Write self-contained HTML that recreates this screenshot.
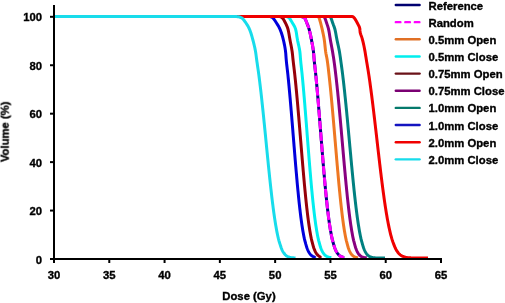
<!DOCTYPE html>
<html><head><meta charset="utf-8"><style>
html,body{margin:0;padding:0;background:#fff;}
body{width:505px;height:303px;overflow:hidden;}
svg{display:block;-webkit-font-smoothing:antialiased;}
text{font-family:"Liberation Sans",sans-serif;font-weight:bold;font-size:11.3px;fill:#000;stroke:#000;stroke-width:0.35px;will-change:transform;}
</style></head><body>
<svg width="505" height="303" viewBox="0 0 505 303">
<rect width="505" height="303" fill="#fff"/>
<polyline points="54.00,16.50 299.71,16.50 300.50,16.52 301.23,16.59 301.91,16.69 302.53,16.84 303.10,17.04 303.60,17.27 304.06,17.55 304.45,17.88 304.79,18.24 305.07,18.65 305.30,19.10 306.09,21.02 306.86,22.95 307.60,24.87 308.33,26.79 308.96,28.72 309.48,30.64 309.96,32.56 310.39,34.49 310.79,36.41 311.18,38.34 311.55,40.26 311.92,42.18 312.28,44.11 312.63,46.03 312.95,47.95 313.23,49.88 313.48,51.80 313.67,53.72 313.83,55.65 313.98,57.57 314.14,59.49 314.32,61.42 314.52,63.34 314.73,65.26 314.94,67.19 315.16,69.11 315.37,71.04 315.58,72.96 315.78,74.88 315.97,76.81 316.16,78.73 316.34,80.65 316.52,82.58 316.70,84.50 316.87,86.42 317.04,88.35 317.22,90.27 317.39,92.19 317.56,94.12 317.72,96.04 317.89,97.96 318.05,99.89 318.21,101.81 318.37,103.74 318.53,105.66 318.69,107.58 318.85,109.51 319.01,111.43 319.17,113.35 319.32,115.28 319.48,117.20 319.63,119.12 319.79,121.05 319.94,122.97 320.09,124.89 320.25,126.82 320.40,128.74 320.55,130.66 320.71,132.59 320.86,134.51 321.01,136.44 321.17,138.36 321.32,140.28 321.47,142.21 321.62,144.13 321.78,146.05 321.93,147.98 322.09,149.90 322.24,151.82 322.40,153.75 322.56,155.67 322.71,157.59 322.87,159.52 323.03,161.44 323.19,163.36 323.35,165.29 323.51,167.21 323.68,169.14 323.84,171.06 324.01,172.98 324.17,174.91 324.34,176.83 324.51,178.75 324.68,180.68 324.86,182.60 325.03,184.52 325.21,186.45 325.40,188.37 325.58,190.29 325.77,192.22 325.96,194.14 326.15,196.06 326.35,197.99 326.54,199.91 326.75,201.84 326.95,203.76 327.16,205.68 327.38,207.61 327.60,209.53 327.83,211.45 328.06,213.38 328.30,215.30 328.54,217.22 328.80,219.15 329.06,221.07 329.33,222.99 329.62,224.92 329.92,226.84 330.22,228.76 330.54,230.69 330.88,232.61 331.24,234.54 331.63,236.46 332.05,238.38 332.51,240.31 333.02,242.23 333.57,244.15 334.16,246.08 334.78,248.00 335.09,248.79 335.40,249.53 335.71,250.21 336.02,250.85 336.33,251.45 336.64,252.01 336.95,252.52 337.27,253.00 337.58,253.44 337.89,253.85 338.21,254.22 338.52,254.57 338.84,254.89 339.15,255.18 339.47,255.45 339.78,255.69 340.10,255.92 340.42,256.13 340.73,256.31 341.05,256.48 341.37,256.64 341.69,256.78 342.00,256.91 342.32,257.02 342.64,257.13 342.96,257.22 343.50,258.00" fill="none" stroke="#000080" stroke-width="3.0" stroke-linejoin="round"/>
<polyline points="54.00,16.50 299.71,16.50 300.50,16.52 301.23,16.59 301.91,16.69 302.53,16.84 303.10,17.04 303.60,17.27 304.06,17.55 304.45,17.88 304.79,18.24 305.07,18.65 305.30,19.10 306.09,21.02 306.86,22.95 307.60,24.87" fill="none" stroke="#FF00FF" stroke-width="3.0" stroke-linejoin="round"/>
<polyline points="307.60,24.87 308.33,26.79 308.96,28.72 309.48,30.64 309.96,32.56 310.39,34.49 310.79,36.41 311.18,38.34 311.55,40.26 311.92,42.18 312.28,44.11 312.63,46.03 312.95,47.95 313.23,49.88 313.48,51.80 313.67,53.72 313.83,55.65 313.98,57.57 314.14,59.49 314.32,61.42 314.52,63.34 314.73,65.26 314.94,67.19 315.16,69.11 315.37,71.04 315.58,72.96 315.78,74.88 315.97,76.81 316.16,78.73 316.34,80.65 316.52,82.58 316.70,84.50 316.87,86.42 317.04,88.35 317.22,90.27 317.39,92.19 317.56,94.12 317.72,96.04 317.89,97.96 318.05,99.89 318.21,101.81 318.37,103.74 318.53,105.66 318.69,107.58 318.85,109.51 319.01,111.43 319.17,113.35 319.32,115.28 319.48,117.20 319.63,119.12 319.79,121.05 319.94,122.97 320.09,124.89 320.25,126.82 320.40,128.74 320.55,130.66 320.71,132.59 320.86,134.51 321.01,136.44 321.17,138.36 321.32,140.28 321.47,142.21 321.62,144.13 321.78,146.05 321.93,147.98 322.09,149.90 322.24,151.82 322.40,153.75 322.56,155.67 322.71,157.59 322.87,159.52 323.03,161.44 323.19,163.36 323.35,165.29 323.51,167.21 323.68,169.14 323.84,171.06 324.01,172.98 324.17,174.91 324.34,176.83 324.51,178.75 324.68,180.68 324.86,182.60 325.03,184.52 325.21,186.45 325.40,188.37 325.58,190.29 325.77,192.22 325.96,194.14 326.15,196.06 326.35,197.99 326.54,199.91 326.75,201.84 326.95,203.76 327.16,205.68 327.38,207.61 327.60,209.53 327.83,211.45 328.06,213.38 328.30,215.30 328.54,217.22 328.80,219.15 329.06,221.07 329.33,222.99 329.62,224.92 329.92,226.84 330.22,228.76 330.54,230.69 330.88,232.61 331.24,234.54 331.63,236.46 332.05,238.38 332.51,240.31 333.02,242.23 333.57,244.15 334.16,246.08 334.78,248.00 335.09,248.79 335.40,249.53 335.71,250.21 336.02,250.85 336.33,251.45 336.64,252.01 336.95,252.52 337.27,253.00 337.58,253.44 337.89,253.85 338.21,254.22 338.52,254.57 338.84,254.89 339.15,255.18 339.47,255.45 339.78,255.69 340.10,255.92 340.42,256.13 340.73,256.31 341.05,256.48 341.37,256.64 341.69,256.78 342.00,256.91 342.32,257.02 342.64,257.13 342.96,257.22 343.50,258.00" fill="none" stroke="#FF00FF" stroke-width="3.0" stroke-linejoin="round" stroke-dasharray="8.55 2.8" stroke-dashoffset="5.119"/>
<polyline points="54.00,16.50 317.53,16.50 317.75,16.52 317.95,16.59 318.15,16.69 318.35,16.84 318.53,17.04 318.71,17.27 318.88,17.55 319.05,17.88 319.21,18.24 319.36,18.65 319.50,19.10 320.06,21.02 320.59,22.95 321.10,24.87 321.59,26.79 322.05,28.72 322.48,30.64 322.91,32.56 323.31,34.49 323.69,36.41 324.04,38.34 324.34,40.26 324.59,42.18 324.81,44.11 325.01,46.03 325.20,47.95 325.42,49.88 325.67,51.80 325.99,53.72 326.37,55.65 326.76,57.57 327.12,59.49 327.41,61.42 327.67,63.34 327.92,65.26 328.15,67.19 328.37,69.11 328.59,71.04 328.81,72.96 329.02,74.88 329.24,76.81 329.45,78.73 329.65,80.65 329.86,82.58 330.06,84.50 330.25,86.42 330.45,88.35 330.64,90.27 330.83,92.19 331.01,94.12 331.20,96.04 331.38,97.96 331.56,99.89 331.74,101.81 331.92,103.74 332.09,105.66 332.27,107.58 332.44,109.51 332.62,111.43 332.79,113.35 332.96,115.28 333.13,117.20 333.29,119.12 333.46,121.05 333.63,122.97 333.79,124.89 333.96,126.82 334.12,128.74 334.29,130.66 334.45,132.59 334.62,134.51 334.78,136.44 334.94,138.36 335.10,140.28 335.27,142.21 335.43,144.13 335.59,146.05 335.75,147.98 335.92,149.90 336.08,151.82 336.25,153.75 336.41,155.67 336.57,157.59 336.74,159.52 336.90,161.44 337.07,163.36 337.24,165.29 337.41,167.21 337.57,169.14 337.75,171.06 337.92,172.98 338.09,174.91 338.26,176.83 338.44,178.75 338.61,180.68 338.79,182.60 338.97,184.52 339.15,186.45 339.34,188.37 339.52,190.29 339.71,192.22 339.91,194.14 340.10,196.06 340.30,197.99 340.49,199.91 340.70,201.84 340.90,203.76 341.11,205.68 341.33,207.61 341.55,209.53 341.77,211.45 342.00,213.38 342.23,215.30 342.48,217.22 342.72,219.15 342.98,221.07 343.25,222.99 343.52,224.92 343.81,226.84 344.10,228.76 344.41,230.69 344.74,232.61 345.08,234.54 345.44,236.46 345.84,238.38 346.27,240.31 346.75,242.23 347.26,244.15 347.80,246.08 348.37,248.00 348.65,248.79 348.93,249.53 349.21,250.21 349.49,250.85 349.77,251.45 350.05,252.01 350.33,252.52 350.61,253.00 350.89,253.44 351.16,253.85 351.44,254.22 351.72,254.57 351.99,254.89 352.27,255.18 352.54,255.45 352.81,255.69 353.09,255.92 353.36,256.13 353.63,256.31 353.90,256.48 354.17,256.64 354.44,256.78 354.71,256.91 354.98,257.02 355.24,257.13 355.51,257.22 355.78,257.31 356.04,257.38 356.31,257.45 356.57,257.51 356.84,257.57 357.10,257.62 357.80,258.00" fill="none" stroke="#EE7722" stroke-width="3.0" stroke-linejoin="round"/>
<polyline points="54.00,16.50 285.43,16.50 285.97,16.52 286.48,16.59 286.97,16.69 287.44,16.84 287.88,17.04 288.31,17.27 288.71,17.55 289.09,17.88 289.45,18.24 289.79,18.65 290.10,19.10 291.30,21.02 292.45,22.95 293.55,24.87 294.67,26.79 295.46,28.72 295.94,30.64 296.32,32.56 296.63,34.49 296.91,36.41 297.21,38.34 297.55,40.26 297.95,42.18 298.38,44.11 298.82,46.03 299.23,47.95 299.59,49.88 299.88,51.80 300.08,53.72 300.24,55.65 300.38,57.57 300.54,59.49 300.72,61.42 300.91,63.34 301.12,65.26 301.33,67.19 301.54,69.11 301.75,71.04 301.96,72.96 302.16,74.88 302.34,76.81 302.53,78.73 302.71,80.65 302.89,82.58 303.06,84.50 303.24,86.42 303.41,88.35 303.58,90.27 303.75,92.19 303.91,94.12 304.08,96.04 304.24,97.96 304.40,99.89 304.56,101.81 304.72,103.74 304.88,105.66 305.03,107.58 305.19,109.51 305.35,111.43 305.50,113.35 305.66,115.28 305.81,117.20 305.96,119.12 306.11,121.05 306.26,122.97 306.42,124.89 306.57,126.82 306.72,128.74 306.87,130.66 307.02,132.59 307.17,134.51 307.32,136.44 307.47,138.36 307.62,140.28 307.77,142.21 307.92,144.13 308.07,146.05 308.23,147.98 308.38,149.90 308.53,151.82 308.69,153.75 308.84,155.67 308.99,157.59 309.15,159.52 309.31,161.44 309.46,163.36 309.62,165.29 309.78,167.21 309.94,169.14 310.10,171.06 310.27,172.98 310.43,174.91 310.60,176.83 310.76,178.75 310.93,180.68 311.10,182.60 311.28,184.52 311.45,186.45 311.63,188.37 311.81,190.29 312.00,192.22 312.18,194.14 312.37,196.06 312.56,197.99 312.76,199.91 312.96,201.84 313.16,203.76 313.37,205.68 313.58,207.61 313.80,209.53 314.02,211.45 314.25,213.38 314.48,215.30 314.72,217.22 314.97,219.15 315.23,221.07 315.49,222.99 315.78,224.92 316.07,226.84 316.37,228.76 316.68,230.69 317.01,232.61 317.36,234.54 317.74,236.46 318.15,238.38 318.60,240.31 319.10,242.23 319.64,244.15 320.22,246.08 320.82,248.00 321.12,248.79 321.42,249.53 321.73,250.21 322.03,250.85 322.34,251.45 322.64,252.01 322.94,252.52 323.25,253.00 323.56,253.44 323.86,253.85 324.17,254.22 324.47,254.57 324.78,254.89 325.09,255.18 325.39,255.45 325.70,255.69 326.01,255.92 326.32,256.13 326.63,256.31 326.94,256.48 327.25,256.64 327.56,256.78 327.87,256.91 328.18,257.02 328.49,257.13 328.80,257.22 329.11,257.31 329.42,257.38 329.73,257.45 330.05,257.51 330.36,257.57 331.00,258.00" fill="none" stroke="#00EEEE" stroke-width="3.0" stroke-linejoin="round"/>
<polyline points="54.00,16.50 278.71,16.50 279.25,16.52 279.76,16.59 280.25,16.69 280.71,16.84 281.15,17.04 281.57,17.27 281.96,17.55 282.33,17.88 282.68,18.24 283.00,18.65 283.30,19.10 284.42,21.02 285.44,22.95 286.36,24.87 287.21,26.79 287.86,28.72 288.33,30.64 288.72,32.56 289.07,34.49 289.39,36.41 289.70,38.34 290.05,40.26 290.42,42.18 290.81,44.11 291.19,46.03 291.55,47.95 291.88,49.88 292.17,51.80 292.41,53.72 292.62,55.65 292.81,57.57 293.01,59.49 293.22,61.42 293.45,63.34 293.68,65.26 293.91,67.19 294.14,69.11 294.36,71.04 294.59,72.96 294.80,74.88 295.01,76.81 295.21,78.73 295.41,80.65 295.60,82.58 295.79,84.50 295.98,86.42 296.16,88.35 296.35,90.27 296.53,92.19 296.71,94.12 296.89,96.04 297.06,97.96 297.24,99.89 297.41,101.81 297.58,103.74 297.75,105.66 297.92,107.58 298.09,109.51 298.25,111.43 298.42,113.35 298.58,115.28 298.75,117.20 298.91,119.12 299.07,121.05 299.23,122.97 299.39,124.89 299.55,126.82 299.71,128.74 299.87,130.66 300.03,132.59 300.19,134.51 300.35,136.44 300.50,138.36 300.66,140.28 300.82,142.21 300.98,144.13 301.14,146.05 301.29,147.98 301.45,149.90 301.61,151.82 301.77,153.75 301.93,155.67 302.09,157.59 302.25,159.52 302.42,161.44 302.58,163.36 302.74,165.29 302.91,167.21 303.07,169.14 303.24,171.06 303.41,172.98 303.58,174.91 303.75,176.83 303.92,178.75 304.09,180.68 304.26,182.60 304.44,184.52 304.62,186.45 304.80,188.37 304.99,190.29 305.17,192.22 305.36,194.14 305.55,196.06 305.74,197.99 305.94,199.91 306.14,201.84 306.34,203.76 306.55,205.68 306.76,207.61 306.98,209.53 307.20,211.45 307.43,213.38 307.66,215.30 307.90,217.22 308.15,219.15 308.40,221.07 308.67,222.99 308.95,224.92 309.23,226.84 309.53,228.76 309.83,230.69 310.16,232.61 310.50,234.54 310.87,236.46 311.26,238.38 311.70,240.31 312.18,242.23 312.69,244.15 313.24,246.08 313.81,248.00 314.10,248.79 314.39,249.53 314.67,250.21 314.96,250.85 315.24,251.45 315.53,252.01 315.81,252.52 316.10,253.00 316.38,253.44 316.66,253.85 316.95,254.22 317.23,254.57 317.51,254.89 317.79,255.18 318.07,255.45 318.36,255.69 318.64,255.92 318.92,256.13 319.20,256.31 319.48,256.48 319.76,256.64 320.04,256.78 320.80,258.00" fill="none" stroke="#960008" stroke-width="3.0" stroke-linejoin="round"/>
<polyline points="54.00,16.50 323.19,16.50 323.40,16.52 323.61,16.59 323.82,16.69 324.02,16.84 324.22,17.04 324.41,17.27 324.60,17.55 324.78,17.88 324.96,18.24 325.13,18.65 325.30,19.10 325.97,21.02 326.62,22.95 327.26,24.87 327.91,26.79 328.45,28.72 328.86,30.64 329.21,32.56 329.52,34.49 329.82,36.41 330.12,38.34 330.45,40.26 330.80,42.18 331.16,44.11 331.52,46.03 331.88,47.95 332.23,49.88 332.57,51.80 332.89,53.72 333.21,55.65 333.52,57.57 333.81,59.49 334.09,61.42 334.35,63.34 334.61,65.26 334.85,67.19 335.10,69.11 335.33,71.04 335.56,72.96 335.79,74.88 336.02,76.81 336.24,78.73 336.45,80.65 336.66,82.58 336.87,84.50 337.08,86.42 337.28,88.35 337.48,90.27 337.68,92.19 337.87,94.12 338.07,96.04 338.26,97.96 338.44,99.89 338.63,101.81 338.81,103.74 339.00,105.66 339.18,107.58 339.36,109.51 339.54,111.43 339.72,113.35 339.90,115.28 340.07,117.20 340.25,119.12 340.42,121.05 340.59,122.97 340.76,124.89 340.94,126.82 341.11,128.74 341.28,130.66 341.45,132.59 341.62,134.51 341.79,136.44 341.96,138.36 342.12,140.28 342.29,142.21 342.46,144.13 342.63,146.05 342.80,147.98 342.97,149.90 343.14,151.82 343.31,153.75 343.48,155.67 343.65,157.59 343.82,159.52 343.99,161.44 344.16,163.36 344.33,165.29 344.51,167.21 344.68,169.14 344.86,171.06 345.04,172.98 345.21,174.91 345.39,176.83 345.57,178.75 345.75,180.68 345.94,182.60 346.12,184.52 346.31,186.45 346.50,188.37 346.69,190.29 346.89,192.22 347.08,194.14 347.28,196.06 347.48,197.99 347.69,199.91 347.90,201.84 348.11,203.76 348.32,205.68 348.54,207.61 348.77,209.53 349.00,211.45 349.23,213.38 349.47,215.30 349.72,217.22 349.97,219.15 350.24,221.07 350.51,222.99 350.79,224.92 351.09,226.84 351.39,228.76 351.70,230.69 352.03,232.61 352.38,234.54 352.75,236.46 353.15,238.38 353.59,240.31 354.08,242.23 354.60,244.15 355.15,246.08 355.72,248.00 356.01,248.79 356.29,249.53 356.58,250.21 356.86,250.85 357.14,251.45 357.42,252.01 357.71,252.52 357.99,253.00 358.27,253.44 358.54,253.85 358.82,254.22 359.10,254.57 359.38,254.89 359.65,255.18 359.93,255.45 360.20,255.69 360.47,255.92 360.74,256.13 361.02,256.31 361.29,256.48 361.56,256.64 361.83,256.78 362.09,256.91 362.36,257.02 362.63,257.13 362.90,257.22 363.16,257.31 363.42,257.38 363.69,257.45 363.95,257.51 364.21,257.57 364.47,257.62 364.74,257.66 364.99,257.70 365.25,257.74 365.51,257.77 365.77,257.80 366.03,257.82 366.70,258.00" fill="none" stroke="#880080" stroke-width="3.0" stroke-linejoin="round"/>
<polyline points="54.00,16.50 329.35,16.50 329.56,16.52 329.77,16.59 329.98,16.69 330.18,16.84 330.37,17.04 330.55,17.27 330.73,17.55 330.91,17.88 331.08,18.24 331.24,18.65 331.40,19.10 332.04,21.02 332.70,22.95 333.38,24.87 334.13,26.79 334.76,28.72 335.23,30.64 335.63,32.56 335.99,34.49 336.33,36.41 336.68,38.34 337.05,40.26 337.46,42.18 337.88,44.11 338.31,46.03 338.72,47.95 339.11,49.88 339.47,51.80 339.78,53.72 340.07,55.65 340.34,57.57 340.61,59.49 340.88,61.42 341.15,63.34 341.42,65.26 341.68,67.19 341.93,69.11 342.19,71.04 342.43,72.96 342.68,74.88 342.91,76.81 343.14,78.73 343.37,80.65 343.59,82.58 343.81,84.50 344.02,86.42 344.23,88.35 344.44,90.27 344.65,92.19 344.85,94.12 345.05,96.04 345.25,97.96 345.45,99.89 345.64,101.81 345.84,103.74 346.03,105.66 346.22,107.58 346.41,109.51 346.60,111.43 346.79,113.35 346.97,115.28 347.15,117.20 347.34,119.12 347.52,121.05 347.70,122.97 347.88,124.89 348.06,126.82 348.24,128.74 348.42,130.66 348.60,132.59 348.77,134.51 348.95,136.44 349.13,138.36 349.31,140.28 349.48,142.21 349.66,144.13 349.83,146.05 350.01,147.98 350.19,149.90 350.37,151.82 350.55,153.75 350.73,155.67 350.90,157.59 351.08,159.52 351.26,161.44 351.44,163.36 351.62,165.29 351.80,167.21 351.99,169.14 352.17,171.06 352.36,172.98 352.55,174.91 352.74,176.83 352.92,178.75 353.11,180.68 353.31,182.60 353.50,184.52 353.70,186.45 353.90,188.37 354.10,190.29 354.31,192.22 354.51,194.14 354.72,196.06 354.94,197.99 355.15,199.91 355.37,201.84 355.59,203.76 355.82,205.68 356.05,207.61 356.29,209.53 356.53,211.45 356.78,213.38 357.03,215.30 357.29,217.22 357.56,219.15 357.83,221.07 358.12,222.99 358.42,224.92 358.73,226.84 359.05,228.76 359.38,230.69 359.73,232.61 360.10,234.54 360.49,236.46 360.91,238.38 361.38,240.31 361.89,242.23 362.44,244.15 363.02,246.08 363.63,248.00 363.93,248.79 364.23,249.53 364.53,250.21 364.83,250.85 365.13,251.45 365.43,252.01 365.73,252.52 366.03,253.00 366.32,253.44 366.62,253.85 366.91,254.22 367.21,254.57 367.50,254.89 367.79,255.18 368.09,255.45 368.38,255.69 368.67,255.92 368.96,256.13 369.25,256.31 369.53,256.48 369.82,256.64 370.11,256.78 370.39,256.91 370.68,257.02 370.96,257.13 371.25,257.22 371.53,257.31 371.81,257.38 372.09,257.45 372.37,257.51 372.65,257.57 372.93,257.62 373.21,257.66 373.49,257.70 373.76,257.74 374.04,257.77 374.31,257.80 374.59,257.82 374.86,257.84 375.13,257.86 375.41,257.88 375.68,257.90 375.95,257.91 376.22,257.92 376.49,257.93 376.75,257.94 377.02,257.95 377.29,257.96 377.55,257.96 385.00,258.00" fill="none" stroke="#008080" stroke-width="3.0" stroke-linejoin="round"/>
<polyline points="54.00,16.50 269.06,16.50 269.59,16.52 270.11,16.59 270.61,16.69 271.09,16.84 271.55,17.04 271.99,17.27 272.41,17.55 272.81,17.88 273.19,18.24 273.56,18.65 273.90,19.10 275.23,21.02 276.48,22.95 277.68,24.87 278.84,26.79 279.79,28.72 280.57,30.64 281.27,32.56 281.90,34.49 282.48,36.41 282.99,38.34 283.46,40.26 283.90,42.18 284.31,44.11 284.69,46.03 285.04,47.95 285.33,49.88 285.58,51.80 285.77,53.72 285.91,55.65 286.05,57.57 286.20,59.49 286.38,61.42 286.58,63.34 286.80,65.26 287.02,67.19 287.25,69.11 287.48,71.04 287.70,72.96 287.91,74.88 288.10,76.81 288.30,78.73 288.49,80.65 288.67,82.58 288.86,84.50 289.04,86.42 289.22,88.35 289.40,90.27 289.57,92.19 289.75,94.12 289.92,96.04 290.09,97.96 290.26,99.89 290.42,101.81 290.59,103.74 290.75,105.66 290.92,107.58 291.08,109.51 291.25,111.43 291.41,113.35 291.57,115.28 291.73,117.20 291.88,119.12 292.04,121.05 292.20,122.97 292.36,124.89 292.51,126.82 292.67,128.74 292.83,130.66 292.98,132.59 293.14,134.51 293.29,136.44 293.45,138.36 293.61,140.28 293.76,142.21 293.92,144.13 294.07,146.05 294.23,147.98 294.39,149.90 294.55,151.82 294.70,153.75 294.86,155.67 295.02,157.59 295.18,159.52 295.34,161.44 295.50,163.36 295.66,165.29 295.83,167.21 295.99,169.14 296.16,171.06 296.33,172.98 296.50,174.91 296.67,176.83 296.84,178.75 297.01,180.68 297.18,182.60 297.36,184.52 297.54,186.45 297.72,188.37 297.91,190.29 298.10,192.22 298.29,194.14 298.48,196.06 298.67,197.99 298.87,199.91 299.07,201.84 299.28,203.76 299.49,205.68 299.70,207.61 299.93,209.53 300.15,211.45 300.38,213.38 300.62,215.30 300.86,217.22 301.11,219.15 301.37,221.07 301.65,222.99 301.93,224.92 302.22,226.84 302.52,228.76 302.84,230.69 303.17,232.61 303.53,234.54 303.91,236.46 304.31,238.38 304.77,240.31 305.27,242.23 305.80,244.15 306.38,246.08 306.98,248.00 307.28,248.79 307.58,249.53 307.88,250.21 308.18,250.85 308.48,251.45 308.78,252.01 309.08,252.52 309.38,253.00 309.68,253.44 309.99,253.85 310.29,254.22 310.59,254.57 310.89,254.89 311.19,255.18 311.49,255.45 311.80,255.69 312.10,255.92 312.40,256.13 312.70,256.31 313.00,256.48 313.31,256.64 313.61,256.78 313.91,256.91 314.21,257.02 314.52,257.13 315.30,258.00" fill="none" stroke="#0000DD" stroke-width="3.0" stroke-linejoin="round"/>
<polyline points="54.00,16.50 351.97,16.50 352.24,16.52 352.52,16.59 352.79,16.69 353.08,16.84 353.36,17.04 353.64,17.27 353.93,17.55 354.22,17.88 354.51,18.24 354.80,18.65 355.10,19.10 356.26,21.02 357.32,22.95 358.29,24.87 359.27,26.79 359.83,28.72 359.98,30.64 360.19,32.56 360.77,34.49 361.50,36.41 362.12,38.34 362.63,40.26 363.10,42.18 363.55,44.11 363.96,46.03 364.35,47.95 364.71,49.88 365.06,51.80 365.38,53.72 365.69,55.65 366.00,57.57 366.31,59.49 366.62,61.42 366.94,63.34 367.27,65.26 367.59,67.19 367.90,69.11 368.22,71.04 368.52,72.96 368.82,74.88 369.11,76.81 369.39,78.73 369.67,80.65 369.94,82.58 370.20,84.50 370.47,86.42 370.73,88.35 370.98,90.27 371.24,92.19 371.49,94.12 371.74,96.04 371.98,97.96 372.22,99.89 372.46,101.81 372.70,103.74 372.94,105.66 373.17,107.58 373.41,109.51 373.64,111.43 373.87,113.35 374.10,115.28 374.33,117.20 374.56,119.12 374.78,121.05 375.00,122.97 375.23,124.89 375.45,126.82 375.67,128.74 375.90,130.66 376.12,132.59 376.34,134.51 376.56,136.44 376.78,138.36 377.00,140.28 377.22,142.21 377.44,144.13 377.66,146.05 377.88,147.98 378.10,149.90 378.33,151.82 378.55,153.75 378.77,155.67 379.00,157.59 379.22,159.52 379.44,161.44 379.67,163.36 379.90,165.29 380.13,167.21 380.36,169.14 380.59,171.06 380.82,172.98 381.06,174.91 381.29,176.83 381.53,178.75 381.77,180.68 382.01,182.60 382.26,184.52 382.51,186.45 382.76,188.37 383.02,190.29 383.28,192.22 383.54,194.14 383.81,196.06 384.07,197.99 384.35,199.91 384.62,201.84 384.91,203.76 385.20,205.68 385.49,207.61 385.79,209.53 386.10,211.45 386.42,213.38 386.74,215.30 387.07,217.22 387.41,219.15 387.77,221.07 388.13,222.99 388.52,224.92 388.91,226.84 389.32,228.76 389.75,230.69 390.20,232.61 390.67,234.54 391.18,236.46 391.73,238.38 392.33,240.31 392.99,242.23 393.71,244.15 394.47,246.08 395.26,248.00 395.66,248.79 396.05,249.53 396.45,250.21 396.84,250.85 397.24,251.45 397.63,252.01 398.02,252.52 398.41,253.00 398.81,253.44 399.20,253.85 399.59,254.22 399.98,254.57 400.37,254.89 400.76,255.18 401.14,255.45 401.53,255.69 401.92,255.92 402.31,256.13 402.69,256.31 403.08,256.48 403.46,256.64 403.85,256.78 404.23,256.91 404.62,257.02 405.00,257.13 405.38,257.22 405.76,257.31 406.14,257.38 406.52,257.45 406.91,257.51 407.29,257.57 407.66,257.62 408.04,257.66 408.42,257.70 408.80,257.74 409.18,257.77 409.55,257.80 409.93,257.82 410.30,257.84 410.68,257.86 411.05,257.88 411.43,257.90 411.80,257.91 412.17,257.92 412.55,257.93 412.92,257.94 413.29,257.95 413.66,257.96 414.03,257.96 428.00,258.00" fill="none" stroke="#F00000" stroke-width="3.0" stroke-linejoin="round"/>
<polyline points="54.00,16.50 234.02,16.50 235.25,16.52 236.40,16.59 237.47,16.69 238.46,16.84 239.37,17.04 240.19,17.27 240.94,17.55 241.60,17.88 242.18,18.24 242.68,18.65 243.10,19.10 244.58,21.02 245.95,22.95 247.19,24.87 248.35,26.79 249.29,28.72 250.06,30.64 250.74,32.56 251.36,34.49 251.92,36.41 252.46,38.34 252.97,40.26 253.47,42.18 253.95,44.11 254.40,46.03 254.83,47.95 255.22,49.88 255.57,51.80 255.87,53.72 256.13,55.65 256.38,57.57 256.63,59.49 256.90,61.42 257.18,63.34 257.46,65.26 257.74,67.19 258.02,69.11 258.30,71.04 258.57,72.96 258.83,74.88 259.08,76.81 259.33,78.73 259.57,80.65 259.81,82.58 260.04,84.50 260.27,86.42 260.50,88.35 260.72,90.27 260.94,92.19 261.16,94.12 261.38,96.04 261.59,97.96 261.80,99.89 262.01,101.81 262.21,103.74 262.42,105.66 262.62,107.58 262.83,109.51 263.03,111.43 263.23,113.35 263.43,115.28 263.62,117.20 263.82,119.12 264.01,121.05 264.21,122.97 264.40,124.89 264.59,126.82 264.78,128.74 264.98,130.66 265.17,132.59 265.36,134.51 265.55,136.44 265.74,138.36 265.93,140.28 266.11,142.21 266.30,144.13 266.49,146.05 266.68,147.98 266.87,149.90 267.06,151.82 267.25,153.75 267.44,155.67 267.64,157.59 267.83,159.52 268.02,161.44 268.21,163.36 268.40,165.29 268.60,167.21 268.80,169.14 269.00,171.06 269.20,172.98 269.39,174.91 269.60,176.83 269.80,178.75 270.00,180.68 270.21,182.60 270.42,184.52 270.63,186.45 270.84,188.37 271.06,190.29 271.28,192.22 271.50,194.14 271.72,196.06 271.95,197.99 272.18,199.91 272.41,201.84 272.65,203.76 272.90,205.68 273.14,207.61 273.40,209.53 273.66,211.45 273.92,213.38 274.19,215.30 274.47,217.22 274.76,219.15 275.05,221.07 275.36,222.99 275.68,224.92 276.01,226.84 276.35,228.76 276.70,230.69 277.08,232.61 277.47,234.54 277.89,236.46 278.34,238.38 278.84,240.31 279.39,242.23 279.98,244.15 280.60,246.08 281.25,248.00 281.58,248.79 281.90,249.53 282.22,250.21 282.54,250.85 282.86,251.45 283.18,252.01 283.50,252.52 283.82,253.00 284.14,253.44 284.45,253.85 284.77,254.22 285.08,254.57 285.40,254.89 285.71,255.18 286.02,255.45 286.33,255.69 286.65,255.92 286.96,256.13 287.26,256.31 287.57,256.48 287.88,256.64 288.19,256.78 288.49,256.91 288.80,257.02 289.10,257.13 289.40,257.22 289.71,257.31 290.01,257.38 290.31,257.45 290.61,257.51 290.91,257.57 291.21,257.62 291.50,257.66 291.80,257.70 292.10,257.74 292.39,257.77 292.69,257.80 292.98,257.82 293.27,257.84 293.56,257.86 293.85,257.88 294.14,257.90 294.43,257.91 294.72,257.92 295.50,258.00" fill="none" stroke="#18DCEB" stroke-width="3.0" stroke-linejoin="round"/>
<g stroke="#000" stroke-width="2" fill="none">
<line x1="54" y1="5" x2="54" y2="260"/>
<line x1="53" y1="259" x2="442" y2="259"/>
<line x1="50" y1="259.00" x2="54" y2="259.00"/>
<line x1="50" y1="210.56" x2="54" y2="210.56"/>
<line x1="50" y1="162.12" x2="54" y2="162.12"/>
<line x1="50" y1="113.68" x2="54" y2="113.68"/>
<line x1="50" y1="65.24" x2="54" y2="65.24"/>
<line x1="50" y1="16.80" x2="54" y2="16.80"/>
<line x1="54.00" y1="259" x2="54.00" y2="263"/>
<line x1="109.28" y1="259" x2="109.28" y2="263"/>
<line x1="164.57" y1="259" x2="164.57" y2="263"/>
<line x1="219.86" y1="259" x2="219.86" y2="263"/>
<line x1="275.14" y1="259" x2="275.14" y2="263"/>
<line x1="330.43" y1="259" x2="330.43" y2="263"/>
<line x1="385.71" y1="259" x2="385.71" y2="263"/>
<line x1="441.00" y1="259" x2="441.00" y2="263"/>
</g>
<text x="42" y="263.50" text-anchor="end">0</text>
<text x="42" y="215.06" text-anchor="end">20</text>
<text x="42" y="166.62" text-anchor="end">40</text>
<text x="42" y="118.18" text-anchor="end">60</text>
<text x="42" y="69.74" text-anchor="end">80</text>
<text x="42" y="21.30" text-anchor="end">100</text>
<text x="54.00" y="279.3" text-anchor="middle">30</text>
<text x="109.28" y="279.3" text-anchor="middle">35</text>
<text x="164.57" y="279.3" text-anchor="middle">40</text>
<text x="219.86" y="279.3" text-anchor="middle">45</text>
<text x="275.14" y="279.3" text-anchor="middle">50</text>
<text x="330.43" y="279.3" text-anchor="middle">55</text>
<text x="385.71" y="279.3" text-anchor="middle">60</text>
<text x="441.00" y="279.3" text-anchor="middle">65</text>
<text x="249" y="300" text-anchor="middle">Dose (Gy)</text>
<text transform="translate(8.7,131.8) rotate(-90)" text-anchor="middle">Volume (%)</text>
<line x1="395.8" y1="5.00" x2="419.6" y2="5.00" stroke="#000070" stroke-width="2.4" stroke-linecap="round"/>
<text x="428.5" y="9.50">Reference</text>
<line x1="395.8" y1="22.15" x2="419.6" y2="22.15" stroke="#FF00FF" stroke-width="2.4" stroke-linecap="round" stroke-dasharray="4.6 4.9"/>
<text x="428.5" y="26.65">Random</text>
<line x1="395.8" y1="39.30" x2="419.6" y2="39.30" stroke="#E07025" stroke-width="2.4" stroke-linecap="round"/>
<text x="428.5" y="43.80">0.5mm Open</text>
<line x1="395.8" y1="56.45" x2="419.6" y2="56.45" stroke="#00EEEE" stroke-width="2.4" stroke-linecap="round"/>
<text x="428.5" y="60.95">0.5mm Close</text>
<line x1="395.8" y1="73.60" x2="419.6" y2="73.60" stroke="#6A1218" stroke-width="2.4" stroke-linecap="round"/>
<text x="428.5" y="78.10">0.75mm Open</text>
<line x1="395.8" y1="90.75" x2="419.6" y2="90.75" stroke="#7A0072" stroke-width="2.4" stroke-linecap="round"/>
<text x="428.5" y="95.25">0.75mm Close</text>
<line x1="395.8" y1="107.90" x2="419.6" y2="107.90" stroke="#057A6C" stroke-width="2.4" stroke-linecap="round"/>
<text x="428.5" y="112.40">1.0mm Open</text>
<line x1="395.8" y1="125.05" x2="419.6" y2="125.05" stroke="#1414C0" stroke-width="2.4" stroke-linecap="round"/>
<text x="428.5" y="129.55">1.0mm Close</text>
<line x1="395.8" y1="142.20" x2="419.6" y2="142.20" stroke="#F00000" stroke-width="2.4" stroke-linecap="round"/>
<text x="428.5" y="146.70">2.0mm Open</text>
<line x1="395.8" y1="159.35" x2="419.6" y2="159.35" stroke="#18DCEB" stroke-width="2.4" stroke-linecap="round"/>
<text x="428.5" y="163.85">2.0mm Close</text>
</svg>
</body></html>
